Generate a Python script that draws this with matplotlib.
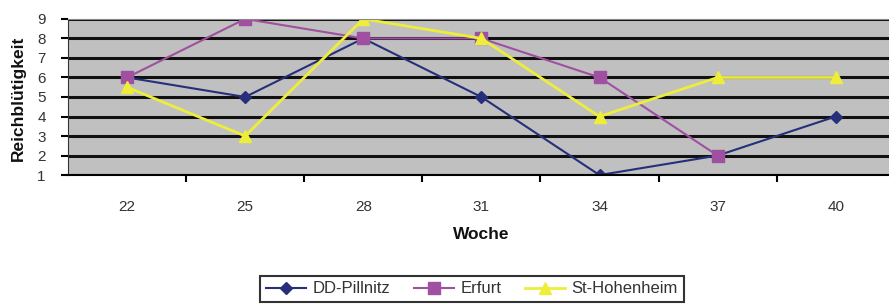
import numpy as np
import matplotlib
matplotlib.use("Agg")
import matplotlib.pyplot as plt

wochen = ["22", "25", "28", "31", "34", "37", "40"]
pillnitz = [6, 5, 8, 5, 1, 2, 4]
erfurt = [6, 9, 8, 8, 6, 2, np.nan]
hohenheim = [5.5, 3, 9, 8, 4, 6, 6]

plt.rcParams['font.family'] = ['Liberation Sans', 'DejaVu Sans']
txt = "#333333"

fig = plt.figure(figsize=(8.89, 3.05), dpi=100)
ax = fig.add_axes([0.0765, 0.426, 0.93, 0.512])
ax.set_facecolor("#c0c0c0")

x = np.arange(len(wochen))
ax.plot(x, pillnitz, color="#26307a", marker="D", markersize=6, lw=1.5, label="DD-Pillnitz")
ax.plot(x, erfurt, color="#a050a0", marker="s", markersize=8, lw=1.5, label="Erfurt")
ax.plot(x, hohenheim, color="#eeee3a", marker="^", markersize=8, lw=2, label="St-Hohenheim")

ax.set_ylim(1, 9)
ax.set_yticks(range(1, 10))
ax.set_xlim(-0.5, 6.5)
ax.set_xticks(x)
ax.set_xticklabels(wochen, fontsize=11, color=txt)
ax.set_xticks(np.arange(0.5, 6.5, 1), minor=True)
ax.tick_params(axis="x", which="major", length=0, pad=18)
ax.tick_params(axis="x", which="minor", length=5, width=1.5, color="black")
ax.tick_params(axis="y", length=5, width=1.5, labelsize=11, labelcolor=txt, pad=11)
ax.yaxis.grid(True, color="#111111", lw=2.2)
ax.set_axisbelow(True)

for s in ["top", "right"]:
    ax.spines[s].set_color("#888888")
ax.spines["left"].set_color("#333333")
ax.spines["bottom"].set_color("black")
ax.spines["bottom"].set_linewidth(1.5)

ax.set_xlabel("Woche", fontsize=12.5, fontweight="bold", color="#111111")
ax.xaxis.set_label_coords(0.5, -0.33)
ax.set_ylabel("Reichblütigkeit", fontsize=12.5, fontweight="bold", color="#111111")
ax.yaxis.set_label_coords(-0.051, 0.49)

leg = fig.legend(loc="center", bbox_to_anchor=(0.531, 0.053), ncol=3, fontsize=12,
                 frameon=True, fancybox=False, edgecolor="black",
                 handlelength=2.4, handletextpad=0.4, columnspacing=1.4,
                 borderpad=0.35, labelcolor=txt)
leg.get_frame().set_linewidth(1.5)

fig.savefig("out.png", dpi=100)
